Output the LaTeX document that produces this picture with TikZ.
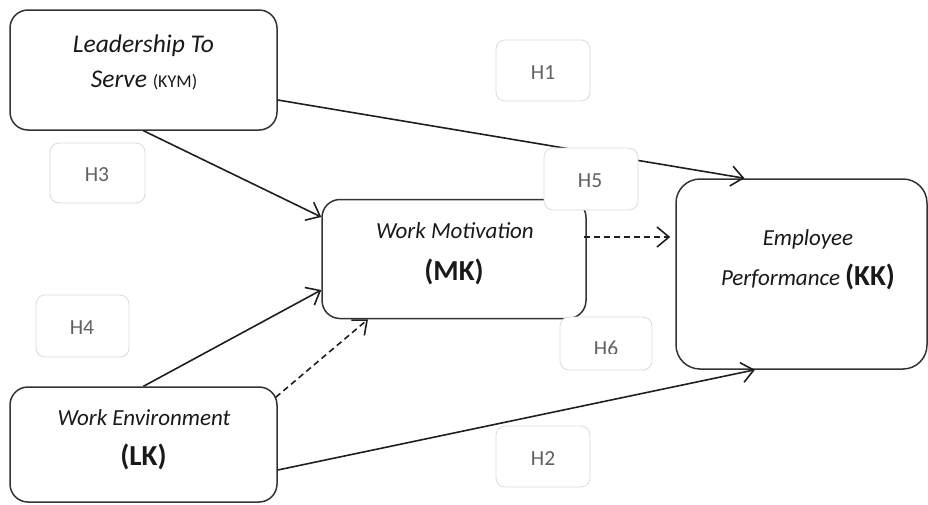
\documentclass[tikz,border=0pt]{standalone}
\usepackage{fontspec}
\setmainfont{Carlito}
\usetikzlibrary{arrows.meta}
\begin{document}
\begin{tikzpicture}[x=1pt,y=-1pt,
  mainbox/.style={draw=black!80, line width=1.5pt, rounded corners=18pt, fill=white, inner sep=0pt},
  hbox/.style={draw=black!14, line width=0.8pt, rounded corners=9pt, fill=white, inner sep=0pt,
    minimum width=94pt, minimum height=61pt},
  htext/.style={text=black!62, font=\fontsize{21.5}{24}\selectfont, inner sep=0pt, anchor=base},
  itext/.style={text=black!90, font=\fontsize{23}{26}\selectfont\itshape, inner sep=0pt, anchor=base},
  btext/.style={text=black!90, font=\fontsize{29}{32}\selectfont\bfseries, inner sep=0pt, anchor=base},
  conn/.style={draw=black!88, line width=1.6pt, -{Straight Barb[length=12pt,width=20pt]}},
  dashconn/.style={conn, dash pattern=on 6pt off 4pt}
]
\useasboundingbox (0,0) rectangle (928,504);

% main boxes
\node[mainbox, minimum width=267pt, minimum height=120pt] (KYM) at (143.5,70) {};
\node[mainbox, minimum width=264pt, minimum height=119pt] (MK) at (454,259) {};
\node[mainbox, minimum width=267pt, minimum height=115pt] (LK) at (143.5,444.5) {};
\node[mainbox, minimum width=251pt, minimum height=190pt, rounded corners=24pt] (KK) at (801.5,274) {};

% texts
\node[itext, font=\fontsize{25.5}{28}\selectfont\itshape] (KYMa) at (143.5,52) {Leadership To};
\node[itext, font=\fontsize{25.5}{28}\selectfont\itshape] (KYMb) at (144,87) {Serve {\upshape\fontsize{18}{20}\selectfont (KYM)}};
\node[itext] (MKa) at (455,238) {Work Motivation};
\node[btext] (MKb) at (454,280) {(MK)};
\node[itext] (LKa) at (144,425) {Work Environment};
\node[btext] (LKb) at (143.5,465) {(LK)};
\node[itext] (KKa) at (808,245) {Employee};
\node[itext] (KKb) at (808,285) {Performance {\upshape\bfseries\fontsize{29}{32}\selectfont (KK)}};

% connectors
\draw[conn] ([yshift=-30pt]KYM.east) -- ([xshift=-57pt]KK.north);
\draw[conn] (KYM.south) -- ([yshift=42pt]MK.west);
\draw[conn] (LK.north) -- ([yshift=-31pt]MK.west);
\draw[dashconn] ([xshift=-2pt,yshift=-11pt]LK.north east) -- ([xshift=-86pt]MK.south);
\draw[conn] ([yshift=-25.5pt]LK.east) -- ([xshift=-46.5pt]KK.south);
\draw[dashconn, shorten >=5pt] ([xshift=-3pt,yshift=22pt]MK.east) -- ([yshift=37pt]KK.west);

% hypothesis labels
\node[hbox] (H1) at (543,70.5) {};
\node[htext] (H1t) at (543,79) {H1};
\node[hbox] (H2) at (543,456.5) {};
\node[htext] (H2t) at (543,465) {H2};
\node[hbox, minimum width=95pt, minimum height=60pt] (H3) at (97.5,173) {};
\node[htext] (H3t) at (97,181) {H3};
\node[hbox, minimum width=93pt, minimum height=62pt] (H4) at (82.5,326) {};
\node[htext] (H4t) at (82,334) {H4};
\node[hbox, minimum height=62pt] (H5) at (591,179) {};
\node[htext] (H5t) at (590,187) {H5};
\node[hbox, minimum width=92pt, minimum height=53pt] (H6) at (606,343.5) {};
\begin{scope}
  \clip (560,317) rectangle (652,353);
  \node[htext] (H6t) at (606,355) {H6};
\end{scope}
\end{tikzpicture}
\end{document}
